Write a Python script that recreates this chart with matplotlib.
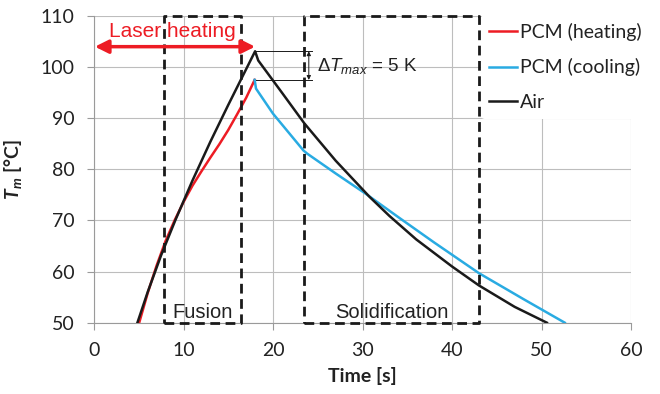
import numpy as np
import matplotlib
matplotlib.use('Agg')
import matplotlib.pyplot as plt

plt.rcParams['font.family'] = ['Lato', 'DejaVu Sans']
plt.rcParams['mathtext.fontset'] = 'custom'
plt.rcParams['mathtext.rm'] = 'Liberation Sans'
plt.rcParams['mathtext.it'] = 'Liberation Sans:italic'
plt.rcParams['mathtext.bf'] = 'Lato:italic:bold'

# data
heat_t = [5.05, 6.0, 7.0, 8.0, 9.0, 10.0, 11.0, 12.0, 13.0, 14.0, 15.0, 16.0, 17.0, 17.95]
heat_T = [50, 55.8, 61.2, 66.0, 70.0, 73.6, 76.8, 79.6, 82.3, 84.9, 87.7, 90.8, 94.0, 97.5]

cool_t = [17.95, 18.1, 20.0, 23.4, 23.8, 27.0, 30.3, 34.2, 38.0, 43.0, 48.0, 52.6]
cool_T = [97.5, 95.8, 90.9, 83.7, 83.1, 79.2, 75.3, 70.4, 65.7, 59.7, 54.6, 50]

air_t = [4.85, 6.0, 7.5, 9.1, 11.0, 13.0, 15.0, 18.0, 18.35, 21.0, 23.5, 27.0,
         30.8, 33.0, 36.0, 40.0, 43.0, 47.0, 50.6]
air_T = [50, 56, 63.2, 70.1, 77.8, 85.4, 92.6, 103.1, 101.3, 95.0, 89.0, 81.7,
         74.6, 70.9, 66.3, 61.0, 57.3, 53.1, 50]

fusion_box = (7.8, 16.4)
solid_box = (23.5, 43.0)
laser_span = (0.1, 18.0)
dT_levels = (103.1, 97.5)

red = '#ed1c24'
blue = '#29abe2'
black = '#1a1a1a'
grey = '#bdbdbd'

fig = plt.figure(figsize=(6.6, 3.94), dpi=100)
ax = fig.add_axes([94/660, 1-322.7/394, (631-94)/660, (322.7-16)/394])

ax.plot(heat_t, heat_T, color=red, lw=1.8, label='PCM (heating)', zorder=3)
ax.plot(cool_t, cool_T, color=blue, lw=1.8, label='PCM (cooling)', zorder=3)
ax.plot(air_t, air_T, color=black, lw=1.8, label='Air', zorder=4)

ax.set_xlim(0, 60)
ax.set_ylim(50, 110)
ax.set_xticks(range(0, 61, 10))
ax.set_yticks(range(50, 111, 10))
ax.grid(True, color=grey, lw=0.8)
ax.set_axisbelow(True)
for s in ['top', 'right']:
    ax.spines[s].set_visible(False)
for s in ['left', 'bottom']:
    ax.spines[s].set_color('#9a9a9a')
    ax.spines[s].set_linewidth(0.8)
ax.tick_params(direction='out', length=5, color='#9a9a9a', width=0.8,
               labelsize=14, labelcolor='#222222')
ax.tick_params(axis='y', pad=9)
ax.tick_params(axis='x', pad=9)

ax.set_xlabel('Time [s]', fontsize=14, fontweight='bold', color='#222222', labelpad=6)
ax.set_ylabel(r'$\mathbf{T_m}$ [°C]', fontsize=14, fontweight='bold', color='#222222', labelpad=12)

# dashed region boxes
dash = (0, (3.5, 2))
for x0, x1 in [fusion_box, solid_box]:
    ax.plot([x0, x1, x1, x0, x0], [50, 50, 110, 110, 50], color=black, lw=2,
            linestyle=dash, clip_on=False, zorder=5)

ax.text(np.mean(fusion_box), 50.9, 'Fusion', ha='center', va='baseline',
        fontsize=14.5, family='Liberation Sans', color='#222222', zorder=6)
ax.text(np.mean(solid_box), 50.9, 'Solidification', ha='center', va='baseline',
        fontsize=14.5, family='Liberation Sans', color='#222222', zorder=6)

# laser heating arrow
ax.annotate('', xy=(laser_span[1], 104), xytext=(laser_span[0], 104),
            arrowprops=dict(arrowstyle='<|-|>', color=red, lw=2.5,
                            mutation_scale=20, shrinkA=0, shrinkB=0), zorder=6)
ax.text(8.77, 105.9, 'Laser heating', ha='center', va='baseline', color=red,
        fontsize=15, family='Liberation Sans', zorder=6)

# delta T annotation
for lvl in dT_levels:
    ax.plot([18.1, 24.4], [lvl, lvl], color=black, lw=0.7, zorder=4)
ax.annotate('', xy=(24.0, dT_levels[1]), xytext=(24.0, dT_levels[0]),
            arrowprops=dict(arrowstyle='<|-|>', color=black, lw=0.7,
                            mutation_scale=6, shrinkA=0, shrinkB=0))
ax.text(24.9, 100.3, r'$\mathit{\Delta T}_{\mathit{max}}$ = 5 K', ha='left', va='center',
        fontsize=13.5, family='Liberation Sans', color='#222222')

leg = ax.legend(loc='upper left', bbox_to_anchor=(481/660, 1 - 15/394),
                bbox_transform=fig.transFigure, fontsize=14, frameon=True,
                facecolor='white', edgecolor='none', framealpha=1,
                handlelength=1.45, handletextpad=0.15, labelspacing=0.9,
                borderpad=0.4, borderaxespad=0)
leg.set_zorder(10)
for t in leg.get_texts():
    t.set_color('#222222')

fig.savefig('out.png', dpi=100)
